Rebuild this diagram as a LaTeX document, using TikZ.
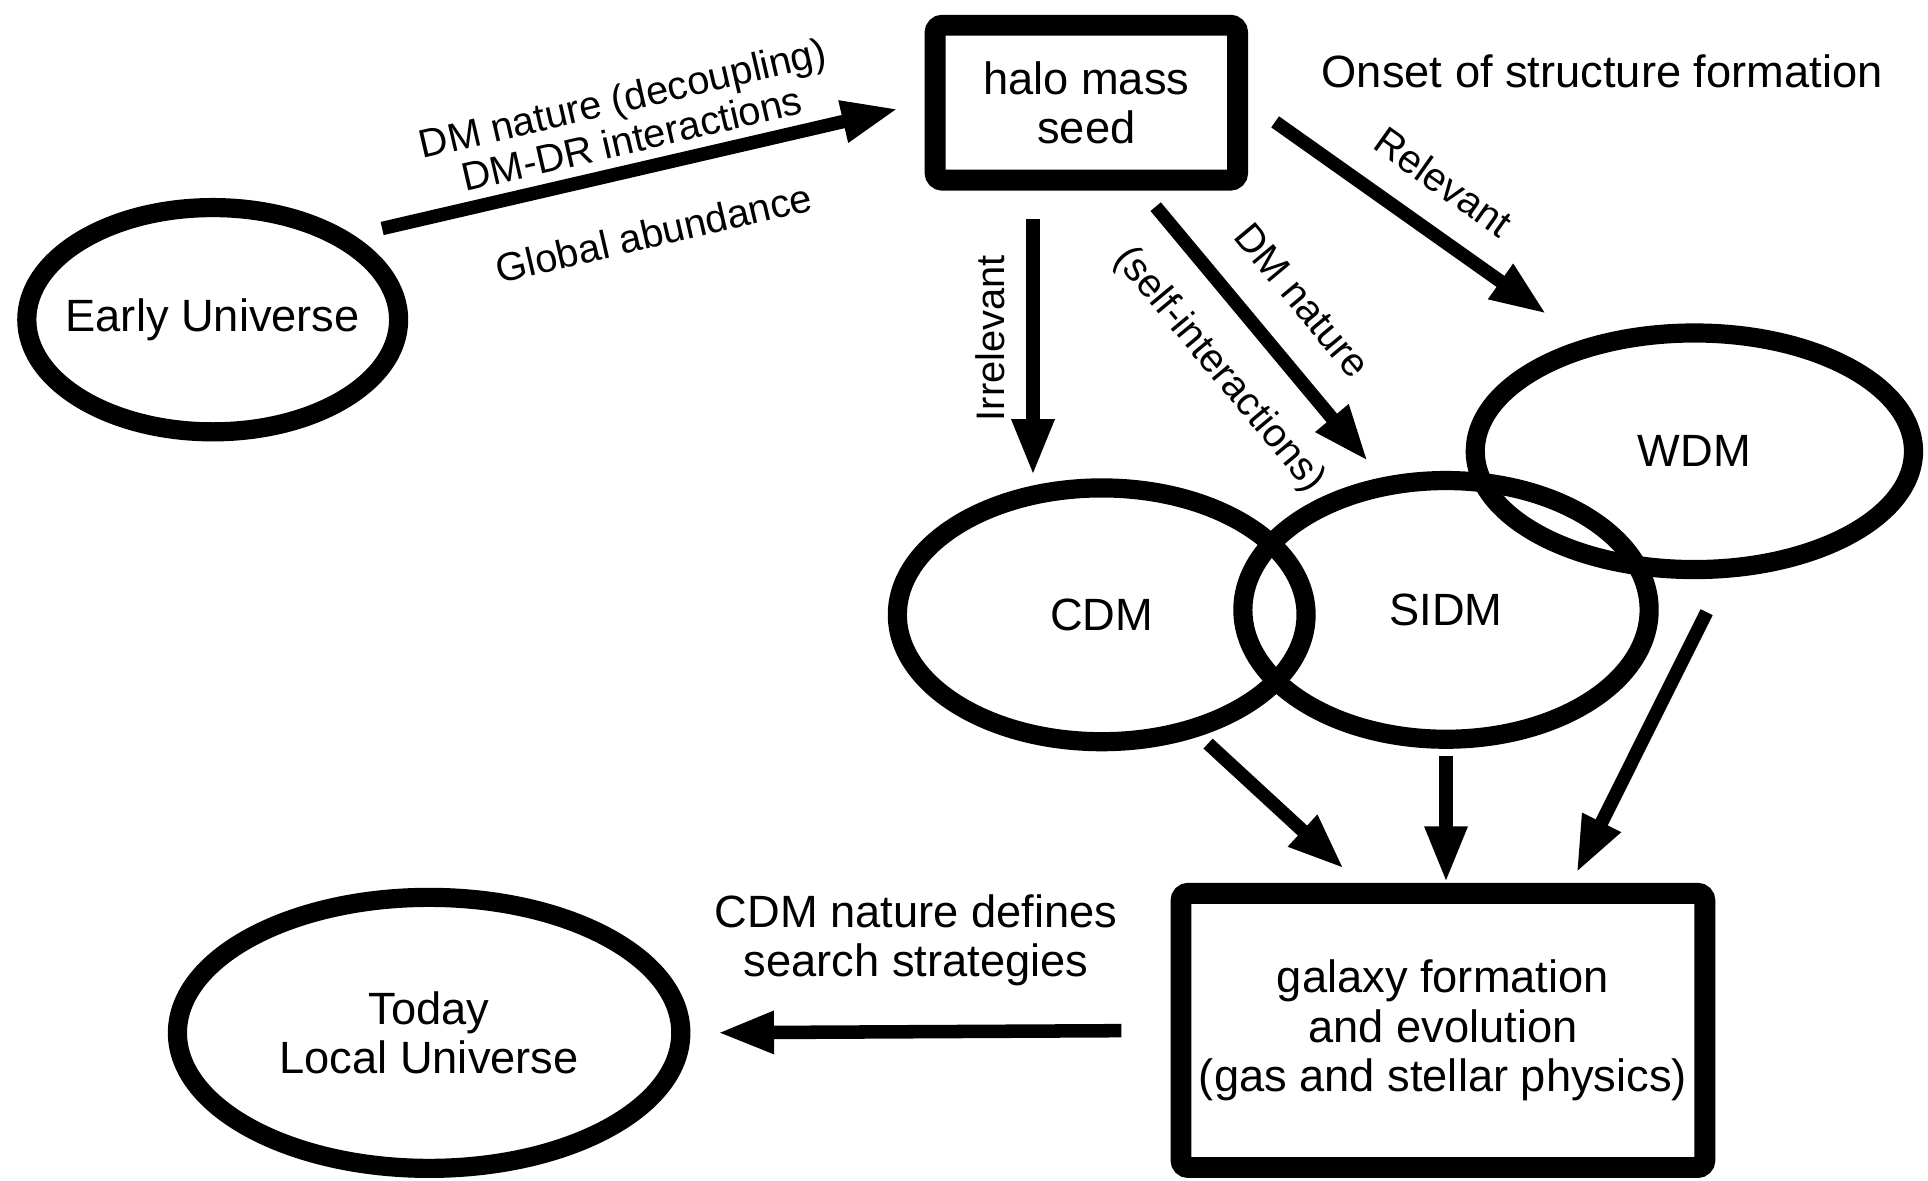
\documentclass[tikz,border=0pt]{standalone}
\usepackage{fontspec}
\setmainfont{Liberation Sans}
\usepackage{tikz}
\usetikzlibrary{positioning,shapes.geometric,arrows.meta}

\begin{document}
\begin{tikzpicture}[x=0.5pt,y=-0.5pt,font=\fontsize{18.4}{20}\selectfont,
  blob/.style={ellipse, draw, line width=7.8pt, inner sep=0pt},
  stage/.style={rectangle, draw, line width=8.5pt, rounded corners=3pt, inner sep=0pt, align=center},
  flow/.style={line width=5.5pt, -{Triangle[length=23pt,width=16pt]}},
  tag/.style={font=\fontsize{16.2}{17}\selectfont, inner sep=0pt, align=center}]
\useasboundingbox (0,0) rectangle (1568,960);
% stages and models
\node[stage, minimum width=123pt, minimum height=63pt] (halo) at (883.5,83.5) {halo mass\\seed};
\node (onset) at (1303,58) {Onset of structure formation};
\node[blob, minimum width=151.2pt, minimum height=91.2pt, label={center:Early Universe}] (early) at (173,260) {};
\node[blob, minimum width=166.2pt, minimum height=103.2pt, label={center:CDM}] (cdm) at (896,500) {};
\node[blob, minimum width=165.2pt, minimum height=105.2pt, label={center:SIDM}] (sidm) at (1176,496) {};
\node[blob, minimum width=178.2pt, minimum height=96.2pt, label={center:WDM}] (wdm) at (1378,367) {};
\node[stage, minimum width=213pt, minimum height=111.5pt] (gal) at (1173.5,838) {galaxy formation\\and evolution\\(gas and stellar physics)};
\node[blob, minimum width=204.7pt, minimum height=110.2pt, label={[align=center]center:Today\\Local Universe}] (today) at (349,840) {};
% top arrows
\draw[flow, shorten <=12pt, shorten >=11pt] (early.31) -- (halo.west)
  node[tag, midway, sloped, above=4pt] {DM nature (decoupling)\\DM-DR interactions}
  node[tag, midway, sloped, below=18pt] {Global abundance};
\draw[flow, shorten <=11.5pt, shorten >=4pt] (halo.south -| cdm.118) -- (cdm.118)
  node[tag, midway, xshift=-17.5pt, rotate=90] {Irrelevant};
\draw[flow, shorten <=8.5pt, shorten >=8.5pt] ([xshift=22.75pt]halo.south) -- (sidm.116)
  node[tag, midway, sloped, above=13pt] {DM nature}
  node[tag, midway, sloped, below=12.5pt] {(self-interactions)};
\draw[flow, shorten <=13.5pt, shorten >=18pt] (halo.east) -- (wdm.135)
  node[tag, midway, sloped, above=11pt] {Relevant};
% bottom arrows
\draw[flow, shorten <=4.5pt, shorten >=8.4pt] (cdm.-51) -- ([xshift=-34pt]gal.north);
\draw[flow, shorten <=3pt] (sidm.south) -- (sidm.south |- gal.north);
\draw[flow, shorten <=15.5pt, shorten >=4.5pt] (wdm.-77) -- ([xshift=52.25pt]gal.north);
\draw[flow, shorten <=20pt, shorten >=11pt] (gal.west) -- (today.east)
  node[pos=0.53, above=16pt, align=center, inner sep=0pt] {CDM nature defines\\search strategies};
\end{tikzpicture}
\end{document}
